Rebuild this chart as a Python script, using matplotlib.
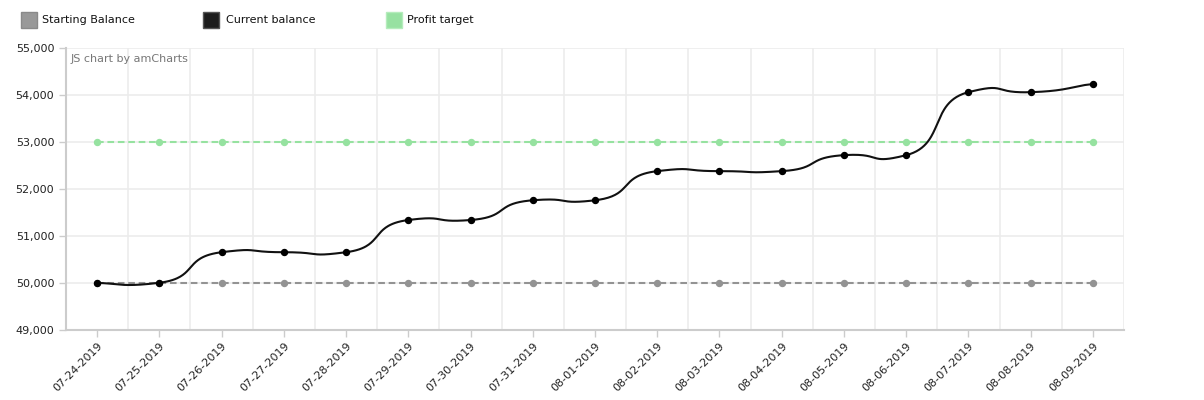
import numpy as np
import matplotlib
matplotlib.use("Agg")
import matplotlib.pyplot as plt
from matplotlib.patches import Rectangle

dates = ["07-24-2019", "07-25-2019", "07-26-2019", "07-27-2019", "07-28-2019",
         "07-29-2019", "07-30-2019", "07-31-2019", "08-01-2019", "08-02-2019",
         "08-03-2019", "08-04-2019", "08-05-2019", "08-06-2019", "08-07-2019",
         "08-08-2019", "08-09-2019"]
current_balance = [50000, 50005, 50655, 50655, 50655, 51340, 51340, 51760, 51760,
                   52380, 52380, 52380, 52720, 52720, 54060, 54060, 54230]
starting_balance = [50000] * 17
profit_target = [53000] * 17
y_ticks = [49000, 50000, 51000, 52000, 53000, 54000, 55000]

W, H = 1204, 400
fig = plt.figure(figsize=(W / 100, H / 100), dpi=100)
L, R, T, B = 66, 1124, 48, 330
ax = fig.add_axes([L / W, 1 - B / H, (R - L) / W, (B - T) / H])

n = len(dates)
x = np.arange(n, dtype=float)


def smooth(xs, ys, kx=0.32, ky=0.16, steps=60):
    xs = np.asarray(xs, float)
    ys = np.asarray(ys, float)
    N = len(xs)
    out_x, out_y = [], []
    for i in range(N - 1):
        i0 = max(i - 1, 0)
        i3 = min(i + 2, N - 1)
        ax_ = xs[i] + (xs[i + 1] - xs[i0]) * kx
        ay_ = ys[i] + (ys[i + 1] - ys[i0]) * ky
        bx_ = xs[i + 1] - (xs[i3] - xs[i]) * kx
        by_ = ys[i + 1] - (ys[i3] - ys[i]) * ky
        t = np.linspace(0, 1, steps, endpoint=(i == N - 2))
        c0 = (1 - t) ** 3
        c1 = 3 * (1 - t) ** 2 * t
        c2 = 3 * (1 - t) * t ** 2
        c3 = t ** 3
        out_x.extend(c0 * xs[i] + c1 * ax_ + c2 * bx_ + c3 * xs[i + 1])
        out_y.extend(c0 * ys[i] + c1 * ay_ + c2 * by_ + c3 * ys[i + 1])
    return np.array(out_x), np.array(out_y)


grid_c = "#ececec"
for yv in y_ticks:
    ax.axhline(yv, color=grid_c, lw=1.2, zorder=0)
for xv in np.arange(0.5, n, 1.0):
    ax.axvline(xv, color=grid_c, lw=1.2, zorder=0)

gray = "#939393"
green = "#96e2a0"
black = "#111111"
ax.plot(x, starting_balance, color=gray, lw=1.5, ls=(0, (3.2, 1.8)), zorder=2)
ax.plot(x, starting_balance, 'o', color=gray, ms=4.3, zorder=3)
ax.plot(x, profit_target, color=green, lw=1.5, ls=(0, (3.2, 1.8)), zorder=2)
ax.plot(x, profit_target, 'o', color=green, ms=4.3, zorder=3)
sx, sy = smooth(x, current_balance)
ax.plot(sx, sy, color=black, lw=1.5, zorder=4)
ax.plot(x, current_balance, 'o', color="#000000", ms=4.3, zorder=5)

ax.set_xlim(-0.5, n - 0.5)
ax.set_ylim(49000, 55000)
ax.set_yticks(y_ticks)
ax.set_yticklabels([f"{v:,}" for v in y_ticks])
ax.set_xticks(x)
ax.set_xticklabels(dates, rotation=45, ha="right", va="top", rotation_mode="anchor")
for s in ["top", "right"]:
    ax.spines[s].set_visible(False)
for s in ["left", "bottom"]:
    ax.spines[s].set_color("#cccccc")
    ax.spines[s].set_linewidth(1.5)
ax.tick_params(axis="both", colors="#cccccc", labelcolor="#222222", labelsize=8, length=5, width=1)
ax.tick_params(axis="x", pad=3)

ax.text(5 / (R - L), 1 - 11 / (B - T), "JS chart by amCharts", transform=ax.transAxes,
        fontsize=8, color="#777777", ha="left", va="center")

legend_items = [("Starting Balance", "#999999", "#8a8a8a", 21, 42),
                ("Current balance", "#1c1c1c", "#555555", 203, 226),
                ("Profit target", "#97e1a1", "#b5ecbc", 386, 407)]
for label, fc, ec, sxp, txp in legend_items:
    fig.add_artist(Rectangle((sxp / W, 1 - 28 / H), 16 / W, 16 / H, transform=fig.transFigure,
                             facecolor=fc, edgecolor=ec, lw=1))
    fig.text(txp / W, 1 - 20 / H, label, fontsize=8, color="#111111", ha="left", va="center")

fig.savefig("out.png", dpi=100)
